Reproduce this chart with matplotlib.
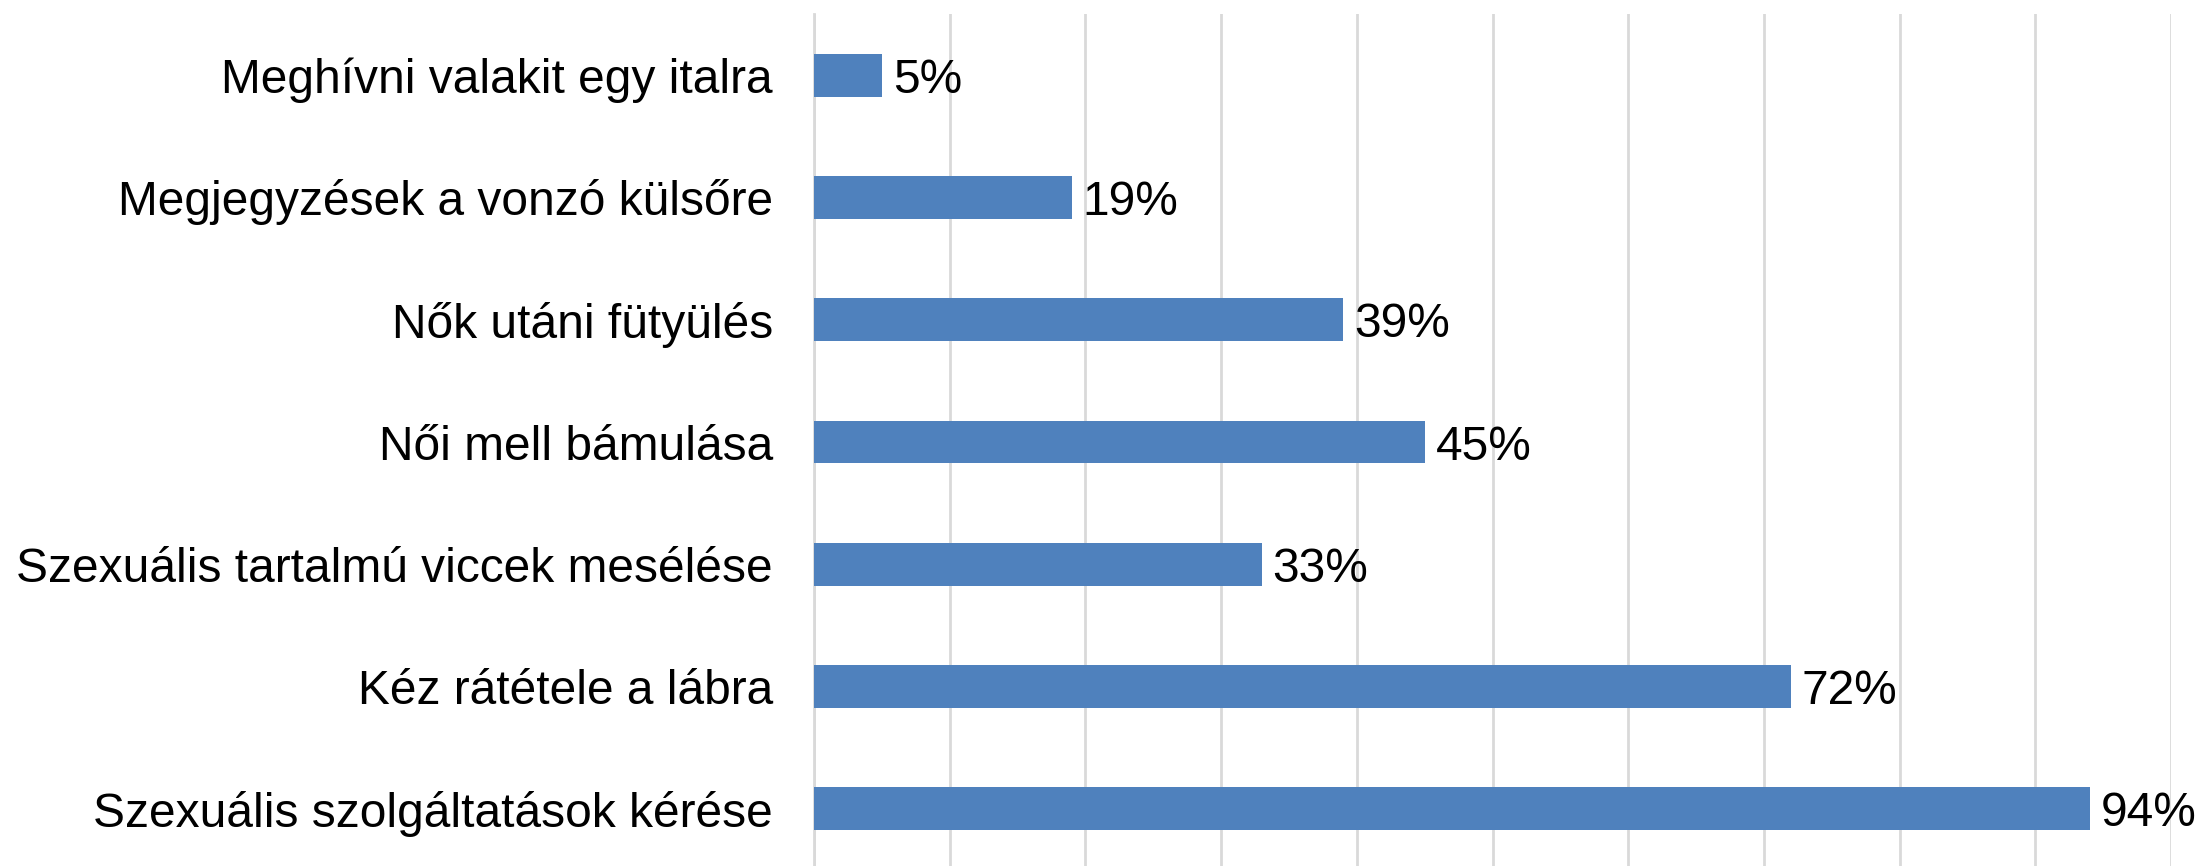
import matplotlib
matplotlib.use("Agg")
import matplotlib.pyplot as plt

categories = [
    "Meghívni valakit egy italra",
    "Megjegyzések a vonzó külsőre",
    "Nők utáni fütyülés",
    "Női mell bámulása",
    "Szexuális tartalmú viccek mesélése",
    "Kéz rátétele a lábra",
    "Szexuális szolgáltatások kérése",
]
values = [5, 19, 39, 45, 33, 72, 94]

BAR_COLOR = "#4F81BD"
GRID_COLOR = "#D9D9D9"

plt.rcParams["font.family"] = ["Liberation Sans", "DejaVu Sans"]

fig = plt.figure(figsize=(22.03, 8.66), dpi=100)
ax = fig.add_axes([814 / 2203, 1 - 870 / 866, (2171 - 814) / 2203, (870 - 14) / 866])

y = list(range(len(categories)))
ax.barh(y, values, height=0.35, color=BAR_COLOR, zorder=3)

# value labels, cap height centred on the bar
for yi, v in zip(y, values):
    ax.text(v + 0.8, yi, f"{v}%", va="center_baseline", ha="left",
            fontsize=34.5, color="black")

ax.set_yticks(y)
ax.set_yticklabels(categories, fontsize=34.5)
ax.set_ylim(len(categories) - 0.5, -0.5)
ax.set_xlim(0, 100)
ax.set_xticks(range(0, 101, 10))
ax.tick_params(axis="x", length=0, labelbottom=False)
ax.tick_params(axis="y", length=0, pad=29.5)

ax.grid(axis="x", color=GRID_COLOR, linewidth=2, zorder=0)
for s in ["top", "right", "bottom"]:
    ax.spines[s].set_visible(False)
ax.spines["left"].set_color(GRID_COLOR)
ax.spines["left"].set_linewidth(2)

fig.savefig("out.png", dpi=100)
